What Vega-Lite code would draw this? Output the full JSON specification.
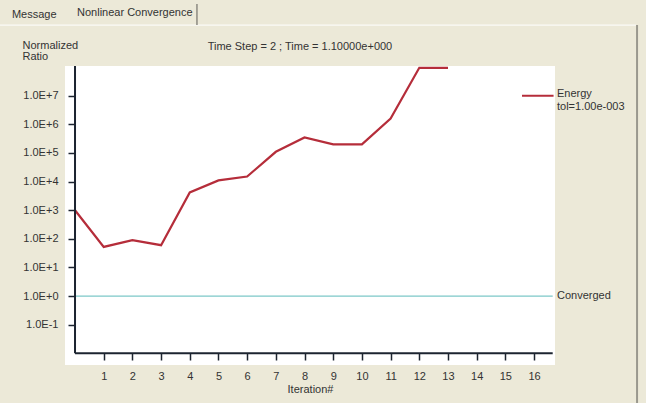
{
  "$schema": "https://vega.github.io/schema/vega-lite/v6.json",
  "width": 490,
  "height": 299,
  "autosize": {"type": "none"},
  "padding": {"left": 65, "top": 66, "right": 91, "bottom": 38},
  "background": "#ece9d8",
  "config": {
    "view": {"fill": "white", "stroke": null},
    "font": "Liberation Sans",
    "text": {"font": "Liberation Sans", "fontSize": 11, "fontWeight": "normal", "fill": "#333333"},
    "axis": {
      "grid": false,
      "domain": false,
      "tickColor": "#1c2430",
      "tickWidth": 1.5,
      "labelColor": "#333333",
      "labelFont": "Liberation Sans",
      "labelFontSize": 11,
      "labelOverlap": false,
      "titleColor": "#333333",
      "titleFont": "Liberation Sans",
      "titleFontSize": 11,
      "titleFontWeight": "normal"
    }
  },
  "layer": [
    {
      "data": {
        "values": [
          {"iteration": 0, "ratio": 1000},
          {"iteration": 1, "ratio": 52},
          {"iteration": 2, "ratio": 90},
          {"iteration": 3, "ratio": 60},
          {"iteration": 4, "ratio": 4200},
          {"iteration": 5, "ratio": 11000},
          {"iteration": 6, "ratio": 15000},
          {"iteration": 7, "ratio": 110000},
          {"iteration": 8, "ratio": 350000},
          {"iteration": 9, "ratio": 200000},
          {"iteration": 10, "ratio": 200000},
          {"iteration": 11, "ratio": 1600000},
          {"iteration": 12, "ratio": 95000000},
          {"iteration": 13, "ratio": 95000000}
        ]
      },
      "mark": {"type": "line", "color": "#b52d3a", "strokeWidth": 2.2, "clip": true},
      "encoding": {
        "x": {
          "field": "iteration",
          "type": "quantitative",
          "scale": {"domain": [-0.349, 16.73], "nice": false, "zero": false},
          "axis": {
            "orient": "bottom",
            "offset": -12,
            "values": [1, 2, 3, 4, 5, 6, 7, 8, 9, 10, 11, 12, 13, 14, 15, 16],
            "tickCount": 20,
            "format": "d",
            "tickSize": 7,
            "labelPadding": 10,
            "title": "Iteration#",
            "titlePadding": 2
          }
        },
        "y": {
          "field": "ratio",
          "type": "quantitative",
          "scale": {"type": "log", "domain": [0.00389, 109600000], "nice": false},
          "axis": {
            "orient": "left",
            "offset": -10,
            "values": [0.1, 1, 10, 100, 1000, 10000, 100000, 1000000, 10000000],
            "tickCount": 12,
            "labelExpr": "'1.0E' + (datum.value >= 1 ? '+' : '-') + format(abs(round(log(datum.value) / LN10)), 'd')",
            "tickSize": 7,
            "labelPadding": 10,
            "title": ["Normalized", "Ratio"],
            "titleAngle": 0,
            "titleAlign": "left",
            "titleBaseline": "top",
            "titleLineHeight": 11,
            "titleX": -53,
            "titleY": -27
          }
        }
      }
    },
    {
      "data": {"values": [{}]},
      "mark": {"type": "rule", "color": "#7cc8c8", "strokeWidth": 1.2},
      "encoding": {
        "x": {"datum": 0},
        "x2": {"datum": 16.65},
        "y": {"datum": 1}
      }
    },
    {
      "data": {"values": [{}]},
      "mark": {"type": "rule", "color": "#1c2430", "strokeWidth": 2},
      "encoding": {
        "x": {"datum": 0},
        "y": {"datum": 0.01},
        "y2": {"datum": 109600000}
      }
    },
    {
      "data": {"values": [{}]},
      "mark": {"type": "rule", "color": "#1c2430", "strokeWidth": 2},
      "encoding": {
        "x": {"datum": 0},
        "x2": {"datum": 16.65},
        "y": {"datum": 0.01}
      }
    },
    {
      "data": {"values": [{}]},
      "mark": {"type": "rule", "color": "#b52d3a", "strokeWidth": 2},
      "encoding": {
        "x": {"datum": 15.58},
        "x2": {"datum": 16.68},
        "y": {"datum": 10000000}
      }
    },
    {
      "data": {"values": [{}]},
      "mark": {"type": "text", "align": "left", "baseline": "top", "dx": 2, "dy": -8, "lineHeight": 13},
      "encoding": {
        "x": {"datum": 16.73},
        "y": {"datum": 10000000},
        "text": {"value": ["Energy", "tol=1.00e-003"]}
      }
    },
    {
      "data": {"values": [{}]},
      "mark": {"type": "text", "align": "left", "baseline": "middle", "dx": 2},
      "encoding": {
        "x": {"datum": 16.73},
        "y": {"datum": 1},
        "text": {"value": "Converged"}
      }
    },
    {
      "data": {"values": [{}]},
      "mark": {"type": "text", "align": "center", "baseline": "middle"},
      "encoding": {
        "x": {"datum": 7.84},
        "y": {"datum": 500000000},
        "text": {"value": "Time Step = 2 ; Time = 1.10000e+000"}
      }
    },
    {
      "data": {"values": [{}]},
      "mark": {"type": "rule", "color": "#ffffff", "strokeWidth": 1},
      "encoding": {
        "x": {"datum": -2.614},
        "x2": {"datum": 19.55},
        "y": {"datum": 2950000000}
      }
    },
    {
      "data": {"values": [{}]},
      "mark": {"type": "rule", "color": "#8c8a80", "strokeWidth": 1.5},
      "encoding": {
        "x": {"datum": 4.25},
        "y": {"datum": 16000000000},
        "y2": {"datum": 2950000000}
      }
    },
    {
      "data": {"values": [{}]},
      "mark": {"type": "rule", "color": "#9a988e", "strokeWidth": 2},
      "encoding": {
        "x": {"datum": 19.59},
        "y": {"datum": 2950000000},
        "y2": {"datum": 0.00018}
      }
    },
    {
      "data": {"values": [{}]},
      "mark": {"type": "text", "align": "left", "baseline": "middle"},
      "encoding": {
        "x": {"datum": -2.2},
        "y": {"datum": 6600000000},
        "text": {"value": "Message"}
      }
    },
    {
      "data": {"values": [{}]},
      "mark": {"type": "text", "align": "left", "baseline": "middle"},
      "encoding": {
        "x": {"datum": 0.07},
        "y": {"datum": 7500000000},
        "text": {"value": "Nonlinear Convergence"}
      }
    }
  ]
}
